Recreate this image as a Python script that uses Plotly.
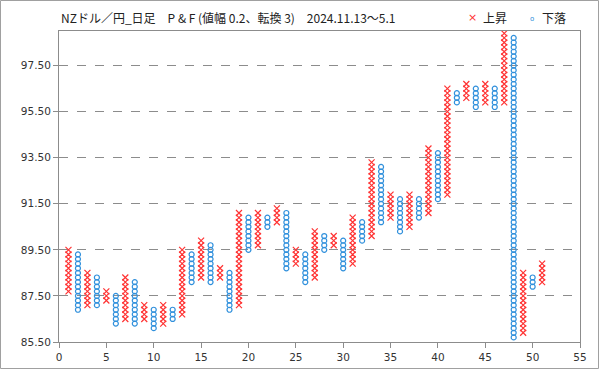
import plotly.graph_objects as go

# Point & Figure columns (box size 0.2, reversal 3)
col_index = list(range(1, 52))
col_type = ["X", "O", "X", "O", "X", "O", "X", "O", "X", "O",
            "X", "O", "X", "O", "X", "O", "X", "O", "X", "O",
            "X", "O", "X", "O", "X", "O", "X", "O", "X", "O",
            "X", "O", "X", "O", "X", "O", "X", "O", "X", "O",
            "X", "O", "X", "O", "X", "O", "X", "O", "X", "O", "X"]
col_low = [87.7, 86.9, 87.1, 87.1, 87.3, 86.3, 86.5, 86.3, 86.5, 86.1,
           86.3, 86.5, 86.7, 88.1, 88.3, 88.1, 88.3, 86.9, 87.1, 89.5,
           89.7, 90.5, 90.7, 88.7, 88.9, 88.1, 88.3, 89.5, 89.7, 88.7,
           88.9, 89.9, 90.1, 90.7, 90.9, 90.3, 90.5, 90.9, 91.1, 91.7,
           91.9, 95.9, 96.1, 95.7, 95.9, 95.7, 95.9, 85.7, 85.9, 87.9, 88.1]
col_high = [89.5, 89.3, 88.5, 88.3, 87.7, 87.5, 88.3, 88.1, 87.1, 86.9,
            87.1, 86.9, 89.5, 89.3, 89.9, 89.7, 88.7, 88.5, 91.1, 90.9,
            91.1, 90.9, 91.3, 91.1, 89.5, 89.3, 90.3, 90.1, 90.1, 89.9,
            90.9, 90.7, 93.3, 93.1, 91.9, 91.7, 91.9, 91.7, 93.9, 93.7,
            96.5, 96.3, 96.7, 96.5, 96.7, 96.5, 98.9, 98.7, 88.5, 88.3, 88.9]
BOX = 0.2
y_ticks = [85.5, 87.5, 89.5, 91.5, 93.5, 95.5, 97.5]
x_ticks = list(range(0, 60, 5))

title_text = "NZドル／円_日足　P & F (値幅 0.2、転換 3)　2024.11.13～5.1"
legend_up = "上昇"
legend_down = "下落"

xs_x, ys_x, xs_o, ys_o = [], [], [], []
for c, t, lo, hi in zip(col_index, col_type, col_low, col_high):
    n = int(round((hi - lo) / BOX)) + 1
    for k in range(n):
        v = round(lo + k * BOX, 1)
        if t == "X":
            xs_x.append(c); ys_x.append(v)
        else:
            xs_o.append(c); ys_o.append(v)

RED = "#FF3333"
BLUE = "#3090DC"

fig = go.Figure()
fig.add_trace(go.Scatter(x=xs_x, y=ys_x, mode="markers", name=legend_up,
                         marker=dict(symbol="x-thin-open", size=6, color=RED,
                                     line=dict(color=RED, width=1.2)),
                         cliponaxis=False, showlegend=False))
fig.add_trace(go.Scatter(x=xs_o, y=ys_o, mode="markers", name=legend_down,
                         marker=dict(symbol="circle-open", size=5, color=BLUE,
                                     line=dict(color=BLUE, width=1.2)),
                         cliponaxis=False, showlegend=False))

L, R, T, B = 59, 580, 31, 342
W, H = 599, 369
pw, ph = R - L, B - T
def px(X): return (X - L) / pw
def py(Y): return (B - Y) / ph

tick_font = dict(family="DejaVu Sans, Verdana, sans-serif", size=10.5, color="#333333")
jp_font = "Noto Sans CJK JP, sans-serif"

fig.update_layout(
    width=W, height=H,
    margin=dict(l=L, r=W - R, t=T, b=H - B, pad=0, autoexpand=False),
    paper_bgcolor="white", plot_bgcolor="white",
    xaxis=dict(range=[0, 55], tickvals=x_ticks, ticktext=[str(v) for v in x_ticks],
               showgrid=False, zeroline=False, showline=True, linecolor="#8c8c8c",
               linewidth=1, mirror=True, ticks="outside", ticklen=5,
               tickcolor="#8c8c8c", tickfont=tick_font, automargin=False),
    yaxis=dict(range=[85.5, 99.0], tickvals=y_ticks, tickformat=".2f",
               showgrid=True, gridcolor="#8c8c8c", griddash="dash", gridwidth=1,
               zeroline=False, showline=True, linecolor="#8c8c8c", linewidth=1,
               mirror=True, ticks="outside", ticklen=5, tickcolor="#8c8c8c",
               tickfont=tick_font, automargin=False),
    showlegend=False,
)

fig.add_shape(type="rect", xref="paper", yref="paper",
              x0=px(0.5), x1=px(W - 0.5), y0=py(H - 0.5), y1=py(0.5),
              line=dict(color="#a0a0a0", width=1), layer="above")

fig.add_annotation(text=title_text, xref="paper", yref="paper",
                   x=px(59), y=py(18), xanchor="left", yanchor="middle",
                   showarrow=False, font=dict(family=jp_font, size=12, color="#222222"))
fig.add_annotation(text="×", xref="paper", yref="paper", x=px(472), y=py(18),
                   xanchor="center", yanchor="middle", showarrow=False,
                   font=dict(family="DejaVu Sans", size=11, color=RED))
fig.add_annotation(text=legend_up, xref="paper", yref="paper", x=px(481), y=py(18),
                   xanchor="left", yanchor="middle", showarrow=False,
                   font=dict(family=jp_font, size=12, color="#222222"))
fig.add_annotation(text="o", xref="paper", yref="paper", x=px(532), y=py(19),
                   xanchor="center", yanchor="middle", showarrow=False,
                   font=dict(family="DejaVu Sans", size=7, color=BLUE))
fig.add_annotation(text=legend_down, xref="paper", yref="paper", x=px(540), y=py(18),
                   xanchor="left", yanchor="middle", showarrow=False,
                   font=dict(family=jp_font, size=12, color="#222222"))

fig.write_html("out.html", config={"displayModeBar": False},
               post_script="document.body.style.margin='0';document.body.style.overflow='hidden';")
